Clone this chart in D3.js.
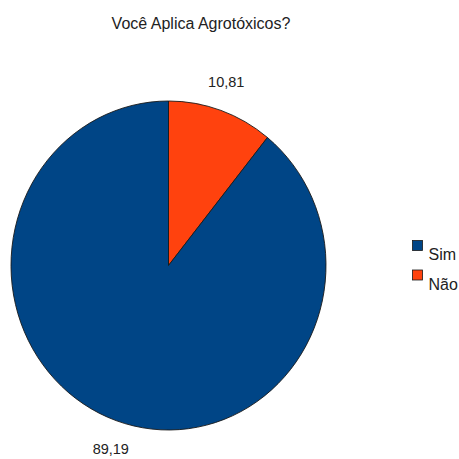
<!DOCTYPE html>
<html>
<head>
<meta charset="utf-8">
<script src="https://cdn.jsdelivr.net/npm/d3@7"></script>
<style>
  html, body { margin: 0; padding: 0; background: #fff; }
  svg { display: block; font-family: "Liberation Sans", Arial, sans-serif; }
</style>
</head>
<body>
<svg id="chart" width="459" height="459"></svg>
<script>
const title = "Você Aplica Agrotóxicos?";
const categories = ["Não", "Sim"];
const values = [10.81, 89.19];
const valueLabels = ["10,81", "89,19"];
const legendOrder = ["Sim", "Não"];
const colors = ["#ff420e", "#004586"];

const svg = d3.select("#chart");
const W = 459, H = 459;
svg.append("rect").attr("width", W).attr("height", H).attr("fill", "#fff");

svg.append("text")
  .attr("x", 201).attr("y", 29)
  .attr("text-anchor", "middle")
  .attr("font-size", 16)
  .attr("fill", "#222")
  .text(title);

const cx = 168.5, cy = 265.5, rx = 157.5, ry = 164.5;
const color = d3.scaleOrdinal().domain(categories).range(colors);

const pie = d3.pie().sort(null).value(d => d.v);
const data = categories.map((c, i) => ({ c, v: values[i], label: valueLabels[i] }));
const arcs = pie(data);
const arc = d3.arc().innerRadius(0).outerRadius(rx);

const g = svg.append("g")
  .attr("transform", `translate(${cx},${cy}) scale(1,${ry / rx})`);

g.selectAll("path")
  .data(arcs)
  .join("path")
  .attr("d", arc)
  .attr("fill", d => color(d.data.c))
  .attr("stroke", "#1a1a1a")
  .attr("stroke-width", 0.9)
  .attr("vector-effect", "non-scaling-stroke");

// value labels set outside the rim, along each slice's mid-angle
const labelRx = 1.1, labelRy = 1.185;
svg.selectAll("text.val")
  .data(arcs)
  .join("text")
  .attr("class", "val")
  .attr("text-anchor", "middle")
  .attr("dominant-baseline", "central")
  .attr("font-size", 14.5)
  .attr("fill", "#222")
  .attr("x", d => cx + Math.sin((d.startAngle + d.endAngle) / 2) * rx * labelRx)
  .attr("y", d => cy - Math.cos((d.startAngle + d.endAngle) / 2) * ry * labelRy)
  .text(d => d.data.label);

// legend
const legend = svg.append("g").attr("transform", "translate(412,240)");
const item = legend.selectAll("g")
  .data(legendOrder)
  .join("g")
  .attr("transform", (d, i) => `translate(0,${i * 29.5})`);
item.append("rect")
  .attr("x", 0.5).attr("y", 0.5)
  .attr("width", 10).attr("height", 10)
  .attr("fill", d => color(d))
  .attr("stroke", "#1a1a1a")
  .attr("stroke-width", 0.8);
item.append("text")
  .attr("x", 16.5).attr("y", 20)
  .attr("font-size", 16)
  .attr("fill", "#222")
  .text(d => d);
</script>
</body>
</html>
